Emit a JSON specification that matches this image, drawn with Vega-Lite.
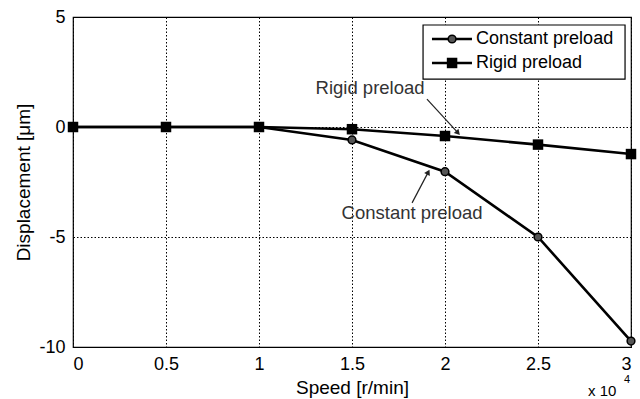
{
  "$schema": "https://vega.github.io/schema/vega-lite/v6.json",
  "width": 558,
  "height": 330,
  "autosize": {"type": "none"},
  "padding": {"left": 73, "top": 17, "right": 9, "bottom": 52},
  "background": "white",
  "config": {
    "font": "Liberation Sans",
    "view": {"stroke": "black", "strokeWidth": 1.2},
    "axis": {
      "grid": true,
      "gridColor": "black",
      "gridDash": [1.5, 2],
      "gridOpacity": 1,
      "gridWidth": 1,
      "domain": false,
      "ticks": false,
      "labelFont": "Liberation Sans",
      "labelFontSize": 18,
      "labelColor": "black",
      "titleFont": "Liberation Sans",
      "titleFontSize": 19,
      "titleFontWeight": "normal",
      "titleColor": "black"
    }
  },
  "datasets": {
    "series": [
      {"speed": 0, "disp": 0, "series": "Constant preload"},
      {"speed": 0.5, "disp": 0, "series": "Constant preload"},
      {"speed": 1, "disp": 0, "series": "Constant preload"},
      {"speed": 1.5, "disp": -0.59, "series": "Constant preload"},
      {"speed": 2, "disp": -2.03, "series": "Constant preload"},
      {"speed": 2.5, "disp": -5.0, "series": "Constant preload"},
      {"speed": 3, "disp": -9.73, "series": "Constant preload"},
      {"speed": 0, "disp": 0, "series": "Rigid preload"},
      {"speed": 0.5, "disp": 0, "series": "Rigid preload"},
      {"speed": 1, "disp": 0, "series": "Rigid preload"},
      {"speed": 1.5, "disp": -0.1, "series": "Rigid preload"},
      {"speed": 2, "disp": -0.41, "series": "Rigid preload"},
      {"speed": 2.5, "disp": -0.8, "series": "Rigid preload"},
      {"speed": 3, "disp": -1.23, "series": "Rigid preload"}
    ],
    "labels": [
      {"x": 1.597, "y": 1.77, "text": "Rigid preload"},
      {"x": 1.823, "y": -3.91, "text": "Constant preload"}
    ],
    "arrows": [
      {"x": 1.903, "y": 1.27, "x2": 2.07, "y2": -0.27, "angle": 137},
      {"x": 1.823, "y": -3.45, "x2": 1.91, "y2": -2.05, "angle": 27}
    ],
    "legendbox": [
      {"x": 1.882, "x2": 2.968, "y": 4.636, "y2": 2.18}
    ],
    "legendlines": [
      {"x": 1.93, "x2": 2.145, "y": 4.0, "mx": 2.038, "text": "Constant preload", "series": "Constant preload"},
      {"x": 1.93, "x2": 2.145, "y": 2.91, "mx": 2.038, "text": "Rigid preload", "series": "Rigid preload"}
    ],
    "note": [
      {"x": 2.769, "y": -11.98, "t": "x 10", "sx": 2.962, "sy": -11.5, "s": "4"}
    ]
  },
  "layer": [
    {
      "data": {"name": "series"},
      "mark": {"type": "line", "color": "black", "strokeWidth": 2.6},
      "encoding": {
        "x": {
          "field": "speed", "type": "quantitative",
          "scale": {"domain": [0, 3], "nice": false, "zero": false},
          "axis": {"values": [0, 0.5, 1, 1.5, 2, 2.5, 3], "labelExpr": "'' + datum.value", "labelPadding": 8, "title": "Speed [r/min]", "titlePadding": 5}
        },
        "y": {
          "field": "disp", "type": "quantitative",
          "scale": {"domain": [-10, 5], "nice": false, "zero": false},
          "axis": {"values": [-10, -5, 0, 5], "labelExpr": "'' + datum.value", "labelPadding": 8, "title": "Displacement [μm]", "titlePadding": 5}
        },
        "detail": {"field": "series"}
      }
    },
    {
      "data": {"name": "series"},
      "transform": [{"filter": "datum.series === 'Constant preload'"}],
      "mark": {"type": "point", "shape": "circle", "filled": true, "fill": "#555", "stroke": "black", "strokeWidth": 1.5, "size": 60, "opacity": 1},
      "encoding": {
        "x": {"field": "speed", "type": "quantitative"},
        "y": {"field": "disp", "type": "quantitative"}
      }
    },
    {
      "data": {"name": "series"},
      "transform": [{"filter": "datum.series === 'Rigid preload'"}],
      "mark": {"type": "point", "shape": "square", "filled": true, "fill": "black", "size": 110, "opacity": 1},
      "encoding": {
        "x": {"field": "speed", "type": "quantitative"},
        "y": {"field": "disp", "type": "quantitative"}
      }
    },
    {
      "data": {"name": "arrows"},
      "mark": {"type": "rule", "color": "#222", "strokeWidth": 1.2},
      "encoding": {
        "x": {"field": "x", "type": "quantitative"},
        "y": {"field": "y", "type": "quantitative"},
        "x2": {"field": "x2"},
        "y2": {"field": "y2"}
      }
    },
    {
      "data": {"name": "arrows"},
      "mark": {"type": "point", "shape": "triangle-up", "filled": true, "fill": "#222", "size": 40, "opacity": 1},
      "encoding": {
        "x": {"field": "x2", "type": "quantitative"},
        "y": {"field": "y2", "type": "quantitative"},
        "angle": {"field": "angle", "type": "quantitative", "scale": null}
      }
    },
    {
      "data": {"name": "labels"},
      "mark": {"type": "text", "fontSize": 18.5, "color": "#333", "font": "Liberation Sans"},
      "encoding": {
        "x": {"field": "x", "type": "quantitative"},
        "y": {"field": "y", "type": "quantitative"},
        "text": {"field": "text"}
      }
    },
    {
      "data": {"name": "legendbox"},
      "mark": {"type": "rect", "fill": "white", "stroke": "black", "strokeWidth": 1.2},
      "encoding": {
        "x": {"field": "x", "type": "quantitative"},
        "x2": {"field": "x2"},
        "y": {"field": "y", "type": "quantitative"},
        "y2": {"field": "y2"}
      }
    },
    {
      "data": {"name": "legendlines"},
      "mark": {"type": "rule", "color": "black", "strokeWidth": 2.6},
      "encoding": {
        "x": {"field": "x", "type": "quantitative"},
        "x2": {"field": "x2"},
        "y": {"field": "y", "type": "quantitative"}
      }
    },
    {
      "data": {"name": "legendlines"},
      "transform": [{"filter": "datum.series === 'Constant preload'"}],
      "mark": {"type": "point", "shape": "circle", "filled": true, "fill": "#555", "stroke": "black", "strokeWidth": 1.5, "size": 60, "opacity": 1},
      "encoding": {
        "x": {"field": "mx", "type": "quantitative"},
        "y": {"field": "y", "type": "quantitative"}
      }
    },
    {
      "data": {"name": "legendlines"},
      "transform": [{"filter": "datum.series === 'Rigid preload'"}],
      "mark": {"type": "point", "shape": "square", "filled": true, "fill": "black", "size": 110, "opacity": 1},
      "encoding": {
        "x": {"field": "mx", "type": "quantitative"},
        "y": {"field": "y", "type": "quantitative"}
      }
    },
    {
      "data": {"name": "legendlines"},
      "mark": {"type": "text", "align": "left", "baseline": "middle", "fontSize": 18, "color": "black", "font": "Liberation Sans"},
      "encoding": {
        "x": {"datum": 2.167, "type": "quantitative"},
        "y": {"field": "y", "type": "quantitative"},
        "text": {"field": "text"}
      }
    },
    {
      "data": {"name": "note"},
      "mark": {"type": "text", "align": "left", "baseline": "middle", "fontSize": 15, "color": "black", "font": "Liberation Sans", "clip": false},
      "encoding": {
        "x": {"field": "x", "type": "quantitative"},
        "y": {"field": "y", "type": "quantitative"},
        "text": {"field": "t"}
      }
    },
    {
      "data": {"name": "note"},
      "mark": {"type": "text", "align": "left", "baseline": "middle", "fontSize": 11, "color": "black", "font": "Liberation Sans", "clip": false},
      "encoding": {
        "x": {"field": "sx", "type": "quantitative"},
        "y": {"field": "sy", "type": "quantitative"},
        "text": {"field": "s"}
      }
    }
  ]
}
